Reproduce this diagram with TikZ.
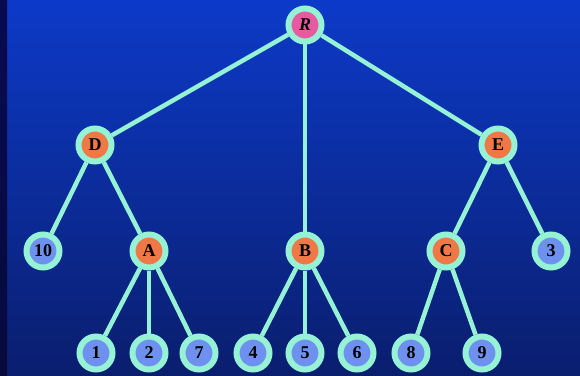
\documentclass[tikz,border=0pt]{standalone}
\usepackage{fontspec}
\setmainfont{Liberation Serif}
\definecolor{bgtop}{RGB}{12,58,200}
\definecolor{bgbot}{RGB}{10,30,110}
\definecolor{striptop}{RGB}{8,10,80}
\definecolor{stripbot}{RGB}{6,10,60}
\definecolor{ringcol}{RGB}{150,242,212}
\definecolor{rootcol}{RGB}{232,90,160}
\definecolor{inncol}{RGB}{240,120,70}
\definecolor{leafcol}{RGB}{110,145,240}
\tikzset{
  x=1pt,y=1pt,
  tnode/.style={circle,draw=ringcol,line width=6pt,minimum size=33pt,inner sep=0pt,
    font=\fontsize{18}{18}\selectfont\bfseries,text=black},
  rootnode/.style={tnode,fill=rootcol,font=\fontsize{18}{18}\selectfont\bfseries\itshape},
  innode/.style={tnode,fill=inncol},
  leafnode/.style={tnode,fill=leafcol},
  edge/.style={draw=ringcol,line width=4.5pt}
}
\begin{document}
\begin{tikzpicture}
\useasboundingbox (0,0) rectangle (580,375);
\shade[top color=bgtop,bottom color=bgbot] (0,0) rectangle (580,375);
\shade[top color=striptop,bottom color=stripbot] (0,0) rectangle (7,375);
% nodes
\node[rootnode] (R) at (305,350) {R};
\node[innode] (D) at (95,230) {D};
\node[innode] (E) at (498,230) {E};
\node[leafnode] (n10) at (43,124) {10};
\node[innode] (A) at (149,124) {A};
\node[innode] (B) at (305,124) {B};
\node[innode] (C) at (446,124) {C};
\node[leafnode] (n3) at (551,124) {3};
\node[leafnode] (n1) at (96,22) {1};
\node[leafnode] (n2) at (149,22) {2};
\node[leafnode] (n7) at (199,22) {7};
\node[leafnode] (n4) at (253,22) {4};
\node[leafnode] (n5) at (305,22) {5};
\node[leafnode] (n6) at (357,22) {6};
\node[leafnode] (n8) at (411,22) {8};
\node[leafnode] (n9) at (482,22) {9};
% edges
\path[edge] (R) -- (D);
\path[edge] (R) -- (B);
\path[edge] (R) -- (E);
\path[edge] (D) -- (n10);
\path[edge] (D) -- (A);
\path[edge] (E) -- (C);
\path[edge] (E) -- (n3);
\path[edge] (A) -- (n1);
\path[edge] (A) -- (n2);
\path[edge] (A) -- (n7);
\path[edge] (B) -- (n4);
\path[edge] (B) -- (n5);
\path[edge] (B) -- (n6);
\path[edge] (C) -- (n8);
\path[edge] (C) -- (n9);
\end{tikzpicture}
\end{document}
